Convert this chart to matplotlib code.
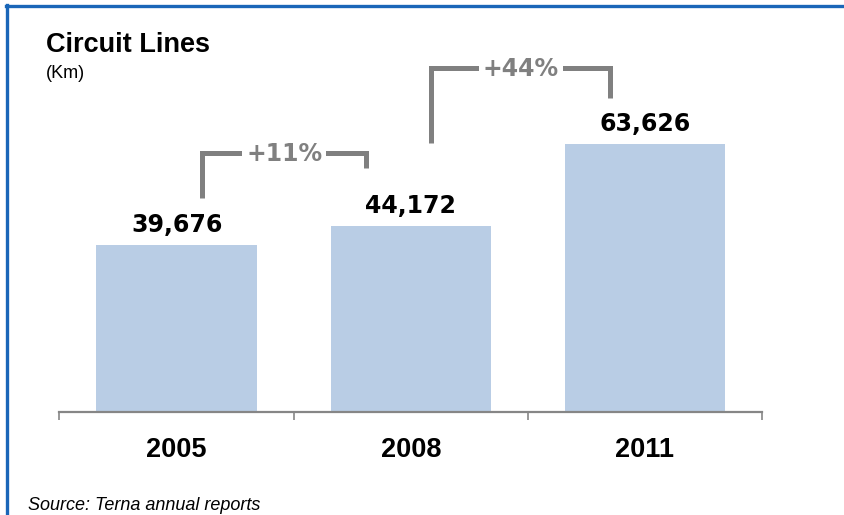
import matplotlib
matplotlib.use("Agg")
import matplotlib.pyplot as plt
from matplotlib.lines import Line2D

# ---- data ----
years = ["2005", "2008", "2011"]
values = [39676, 44172, 63626]
title = "Circuit Lines"
unit = "(Km)"
source = "Source: Terna annual reports"

# bracket annotations: (from index, to index)
pairs = [(0, 1), (1, 2)]

W, H = 845, 515
DPI = 100
fig = plt.figure(figsize=(W / DPI, H / DPI), dpi=DPI)

def fx(px):
    return px / W

def fy(py):
    return 1 - py / H

px2pt = 72.0 / DPI

# axes placement
ax_left, ax_right, ax_bottom, ax_top = 59.5, 762, 412, 20
ax = fig.add_axes([fx(ax_left), fy(ax_bottom), fx(ax_right - ax_left), (ax_bottom - ax_top) / H])
scale = 237.5  # value per pixel
ax.set_xlim(-0.5, len(values) - 0.5)
ax.set_ylim(0, (ax_bottom - ax_top) * scale)

bar_color = "#b9cde5"
gray = "#808080"
ax.bar(range(len(values)), values, width=0.684, color=bar_color, zorder=2)

for s in ["top", "right", "left"]:
    ax.spines[s].set_visible(False)
ax.spines["bottom"].set_color("#868686")
ax.spines["bottom"].set_linewidth(1.6)
ax.set_yticks([])
ax.set_xticks([i - 0.5 for i in range(len(values) + 1)])
ax.set_xticklabels([])
ax.tick_params(axis="x", which="major", direction="out", length=8 * px2pt,
               width=1.2, color="#868686")

num_font = dict(family="DejaVu Sans", weight="bold", size=17)

# value labels
for i, v in enumerate(values):
    ax.annotate(f"{v:,}", xy=(i, v), xytext=(0, 13 * px2pt), textcoords="offset points",
                ha="center", va="baseline", color="black", **num_font)

# year labels
for i, y in enumerate(years):
    ax.annotate(y, xy=(i, 0), xycoords=("data", "axes fraction"),
                xytext=(0, -45 * px2pt), textcoords="offset points",
                ha="center", va="baseline", family="Liberation Sans",
                weight="bold", size=19.5, color="black")

# brackets (offsets relative to data values, in value units)
bracket_specs = [
    # left x offset, right x offset, left bottom above a, right bottom above b, top above max(a,b)
    (0.109, -0.19, 11100, 13800, 17300),
    (0.088, -0.147, 19700, 11000, 18100),
]
for (a, b), (lx, rx, lb, rb, tp) in zip(pairs, bracket_specs):
    x0 = a + lx
    x1 = b + rx
    top = max(values[a], values[b]) + tp
    ax.plot([x0, x0, x1, x1], [values[a] + lb, top, top, values[b] + rb],
            color=gray, lw=5 * px2pt, solid_joinstyle="miter",
            solid_capstyle="butt", zorder=3, clip_on=False)
    pct = round((values[b] / values[a] - 1) * 100)
    ax.annotate(f"+{pct}%", xy=((x0 + x1) / 2, top), xytext=(0, -8 * px2pt),
                textcoords="offset points", ha="center", va="baseline",
                color=gray, zorder=4,
                bbox=dict(facecolor="white", edgecolor="none", pad=3),
                **num_font)

# titles
fig.text(fx(46), fy(52), title, family="Liberation Sans", weight="bold",
         size=19.5, ha="left", va="baseline", color="black")
fig.text(fx(46), fy(78), unit, family="Liberation Sans", size=13,
         ha="left", va="baseline", color="black")
fig.text(fx(28), fy(510), source, family="Liberation Sans", style="italic",
         size=13, ha="left", va="baseline", color="black")

# border lines (top and left)
border = "#1a66b8"
fig.add_artist(Line2D([fx(6), fx(W)], [fy(6), fy(6)], color=border, lw=2.4))
fig.add_artist(Line2D([fx(7), fx(7)], [fy(5), fy(H)], color=border, lw=2.4))

fig.savefig("out.png", dpi=DPI)
